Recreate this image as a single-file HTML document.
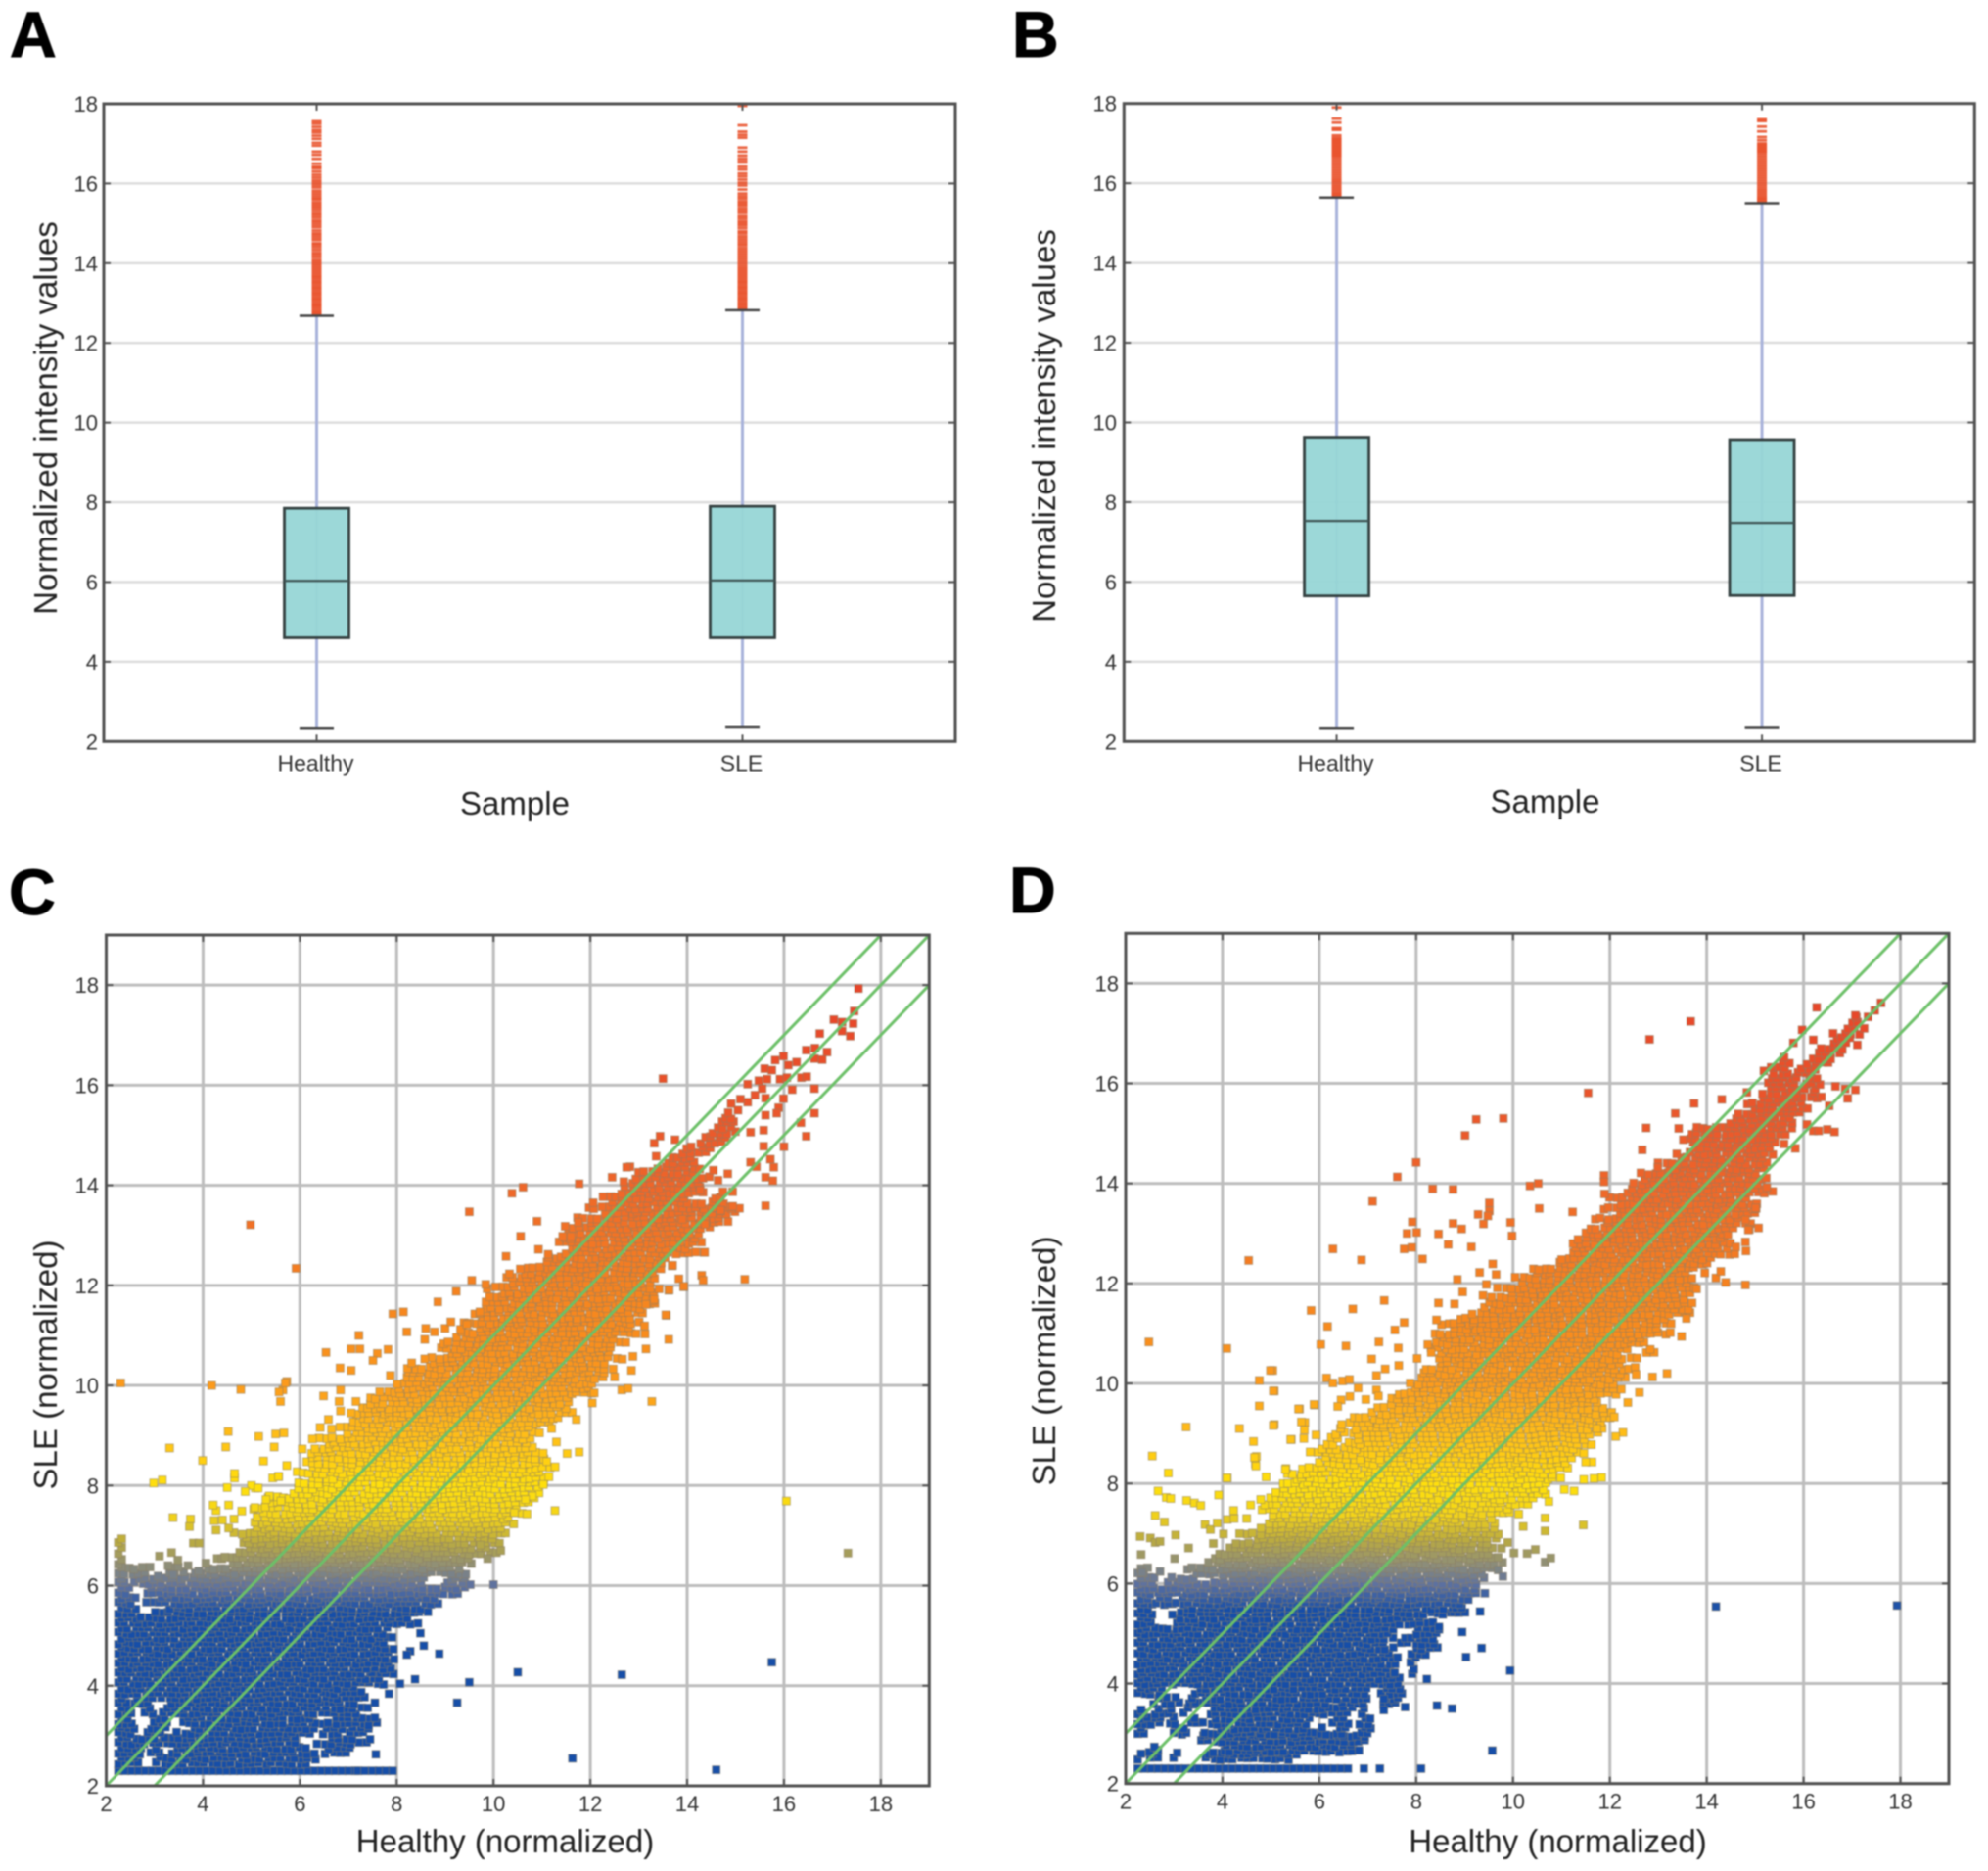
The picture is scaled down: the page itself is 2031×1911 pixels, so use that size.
<!DOCTYPE html>
<html lang="en">
<head>
<meta charset="utf-8">
<title>Normalized intensity box plots and scatter plots</title>
<style>
html,body{margin:0;padding:0;background:#fff;}
#figure{display:block;filter:blur(0.8px);font-family:"Liberation Sans",Arial,sans-serif;}
.tick{font-size:22px;fill:#333;}
.cat{font-size:23px;fill:#333;}
.title{font-size:33px;fill:#222;}
.panel{font-size:66px;font-weight:bold;fill:#000;stroke:#000;stroke-width:1px;}
</style>
</head>
<body>
<svg id="figure" xmlns="http://www.w3.org/2000/svg" width="2031" height="1911" viewBox="0 0 2031 1911">
  <rect width="2031" height="1911" fill="#fff"/>
  <g id="chart-a"></g>
  <g id="chart-b"></g>
  <g id="chart-c"></g>
  <g id="chart-d"></g>

  <text class="panel" x="10" y="58">A</text>
  <text class="panel" x="1034" y="58">B</text>
  <text class="panel" x="9" y="934">C</text>
  <text class="panel" x="1031" y="932">D</text>

  <text class="title" text-anchor="middle" transform="translate(58,427) rotate(-90)">Normalized intensity values</text>
  <text class="title" text-anchor="middle" x="526" y="832">Sample</text>
  <text class="title" text-anchor="middle" transform="translate(1078,435) rotate(-90)">Normalized intensity values</text>
  <text class="title" text-anchor="middle" x="1578.5" y="830">Sample</text>
  <text class="title" text-anchor="middle" transform="translate(58,1394) rotate(-90)">SLE (normalized)</text>
  <text class="title" text-anchor="middle" x="516" y="1892">Healthy (normalized)</text>
  <text class="title" text-anchor="middle" transform="translate(1078,1390) rotate(-90)">SLE (normalized)</text>
  <text class="title" text-anchor="middle" x="1591.5" y="1892">Healthy (normalized)</text>
</svg>

<script>
/* ---------- box plot data ---------- */
const boxCategories = ['Healthy', 'SLE'];
const boxYTicks = [2, 4, 6, 8, 10, 12, 14, 16, 18];

const q1A = [4.6, 4.6];
const medianA = [6.03, 6.04];
const q3A = [7.85, 7.9];
const whiskerLowA = [2.32, 2.35];
const whiskerHighA = [12.68, 12.82];
const outliersAHealthy = [12.72,12.76,12.8,12.85,12.9,12.94,12.98,13.03,13.08,13.12,13.17,13.22,13.26,13.31,13.36,13.4,13.45,13.5,13.54,13.59,13.64,13.68,13.73,13.78,13.83,13.88,13.93,13.98,14.03,14.08,14.15,14.21,14.26,14.33,14.4,14.46,14.5,14.58,14.64,14.7,14.75,14.82,14.9,14.96,15.02,15.07,15.14,15.2,15.25,15.32,15.38,15.43,15.48,15.53,15.6,15.64,15.7,15.76,15.82,15.9,15.96,16.02,16.08,16.15,16.22,16.3,16.38,16.42,16.5,16.62,16.72,16.8,16.95,17.02,17.12,17.2,17.28,17.34,17.42,17.5,17.56];
const outliersASLE = [12.86,12.9,12.95,12.99,13.04,13.09,13.13,13.18,13.23,13.27,13.32,13.37,13.41,13.46,13.51,13.55,13.6,13.65,13.7,13.75,13.8,13.85,13.9,13.96,14.02,14.08,14.14,14.2,14.26,14.32,14.38,14.45,14.5,14.56,14.62,14.68,14.75,14.8,14.88,14.95,15.0,15.05,15.12,15.18,15.26,15.32,15.38,15.45,15.5,15.55,15.62,15.68,15.75,15.85,15.95,16.02,16.1,16.18,16.25,16.35,16.42,16.55,16.62,16.7,16.8,16.9,17.15,17.22,17.3,17.46,17.95];

const q1B = [5.65, 5.66];
const medianB = [7.53, 7.48];
const q3B = [9.63, 9.57];
const whiskerLowB = [2.32, 2.34];
const whiskerHighB = [15.64, 15.5];
const outliersBHealthy = [15.68,15.72,15.76,15.81,15.86,15.91,15.96,16.02,16.07,16.12,16.18,16.24,16.3,16.36,16.42,16.48,16.54,16.6,16.66,16.7,16.74,16.78,16.82,16.86,16.9,16.94,16.98,17.02,17.06,17.1,17.14,17.2,17.34,17.38,17.52,17.62,17.9];
const outliersBSLE = [15.54,15.58,15.62,15.66,15.71,15.76,15.81,15.86,15.92,15.98,16.04,16.1,16.16,16.22,16.28,16.34,16.4,16.46,16.52,16.58,16.64,16.7,16.76,16.8,16.84,16.88,16.92,16.96,17.0,17.08,17.16,17.3,17.42,17.56,17.6];

/* ---------- scatter data: C ---------- */
const scatterTicks = [2, 4, 6, 8, 10, 12, 14, 16, 18];
/* each band: SLE level, then Healthy start/end pairs read from the dense cloud */
const floorC = [2.3, 2.25,7.15, 7.2,7.35, 7.5,7.95];
const bandsC = [
[2.5,2.25,2.7,2.85,6.4],[2.7,2.25,2.8,2.95,3.15,3.25,6.45,6.55,7.1],[2.9,2.25,3.15,3.35,6.2,6.35,7.3],
[3.1,2.25,2.6,2.85,3.2,3.55,5.9,6.05,6.3,6.5,6.9,7.05,7.45],[3.3,2.25,2.55,3.0,3.3,3.5,6.25,6.45,7.4],
[3.5,2.25,2.55,2.8,2.95,3.25,6.25,6.4,7.3],[3.7,2.25,2.4,2.6,2.95,3.3,7.2],[3.9,2.25,7.25],[4.1,2.25,7.3,7.45,7.75],
[4.3,2.25,7.4,7.5,7.95],[4.5,2.25,7.9],[4.7,2.25,8.0],[4.9,2.25,8.0],[5.1,2.25,8.05],[5.3,2.25,8.25],
[5.5,2.25,2.65,3.0,8.4],[5.7,2.25,2.65,2.9,8.7],[5.9,2.25,2.5,2.75,9.3],[6.1,2.25,2.4,2.65,8.6,9.05,9.45],
[6.3,2.25,2.95,3.3,3.6,4.0,9.6],[6.5,2.25,2.35,4.4,9.75],[6.7,2.25,2.35,4.65,9.9],[6.9,2.25,2.35,4.8,10.2],
[7.1,4.85,10.4],[7.3,4.85,10.6],[7.5,5.2,10.65],[7.7,5.6,10.75],[7.9,5.8,10.9],[8.1,5.95,11.05],[8.3,6.0,11.1],
[8.5,6.05,11.05],[8.7,6.3,11.0],[8.9,6.55,11.0],[9.1,6.8,11.05],[9.3,7.0,11.25],[9.5,7.15,11.5],[9.7,7.55,11.75],
[9.9,7.9,11.9],[10.1,8.1,12.05],[10.3,8.25,12.4],[10.5,8.6,12.5],[10.7,8.9,12.6],[10.9,9.15,12.85],[11.1,9.45,12.95],
[11.3,9.6,13.0],[11.5,9.75,12.95],[11.7,9.95,13.1],[11.9,10.05,13.3],[12.1,10.3,13.4],[12.3,10.5,13.55],[12.5,10.9,13.8],
[12.7,11.3,14.0],[12.9,11.6,14.4],[13.1,11.7,14.5],[13.3,11.9,14.7],[13.5,12.05,14.85],[13.7,12.3,14.2,14.5,14.8],
[13.9,12.5,14.1],[14.1,12.75,14.4],[14.3,13.2,14.4],[14.5,13.6,14.2],[14.7,13.9,14.15,14.25,14.5],[14.9,14.3,14.85],
[15.1,14.55,15.0],[15.3,14.7,15.0]
];
/* x,y pairs of sparse individually visible points */
const pointsC = [
[13.5,16.13],[4.98,13.21],[5.92,12.34],[9.5,13.47],[10.38,13.84],[10.61,13.96],[11.77,14.03],[12.45,14.16],[12.82,14.37],[12.75,14.36],[13.32,14.84],[13.44,14.98],[13.75,14.91],[13.36,14.58],[12.06,13.65],[10.9,13.28],[11.75,13.26],[11.48,13.18],[10.56,12.98],[11.43,12.98],[11.6,12.98],[10.26,12.58],[10.93,12.72],[11.13,12.62],[10.33,12.23],[9.55,12.1],[9.84,12.02],[9.23,11.88],[8.85,11.67],[7.92,11.43],[8.14,11.47],[7.22,11.0],[8.21,11.07],[8.6,11.14],[8.58,10.92],[8.78,11.07],[9,11.14],[9.12,11.27],[9.32,11.12],[9.45,11.22],[9.72,11.47],[6.54,10.66],[7.06,10.73],[7.24,10.73],[7.82,10.72],[7.6,10.64],[7.51,10.5],[6.83,10.35],[7.06,10.3],[8.31,10.45],[8.58,10.53],[7.87,10.2],[5.73,10.08],[5.65,9.91],[5.6,9.68],[6.84,9.91],[6.49,9.79],[6.81,9.68],[7.16,9.68],[6.84,9.49],[7.06,9.45],[5.15,8.98],[5.67,9.05],[5.47,8.77],[5.25,8.49],[5.73,8.4],[5.56,8.18],[6.59,9.32],[6.42,9.16],[6.26,8.93],[6.05,8.73],[5.08,7.95],[5.35,7.76],
[14.35,12.66],[13.69,12.39],[14.3,12.2],[14.33,12.1],[13.83,12.13],[13.93,11.97],[13.62,11.9],[14.69,13.49],[14.9,13.57],[13.57,11.4],[13.62,10.92],[13.15,10.73],[12.88,10.58],[13.12,11.19],[13.29,11.69],[12.5,10.17],[12.85,10.3],[12.65,9.91],[12.78,9.94],[13.27,9.68],[12.04,9.65],[12.08,9.85],[11.71,9.32],[11.2,9.14],[11.52,8.64],[11.77,8.67],[11.3,8.87],[11.1,8.48],[11.27,7.5],[10.43,7.46],[10.8,7.79],[10.66,7.72],[11.03,8.02],
[17.54,17.93],[17.45,17.48],[17.03,17.31],[17.2,17.26],[17.43,17.23],[17.2,17.08],[17.37,16.98],[16.74,17.03],[16.46,16.7],[16.64,16.74],[16.89,16.66],[16.63,16.53],[16.79,16.51],[15.99,16.58],[15.82,16.5],[15.6,16.33],[15.75,16.3],[16.26,16.46],[16.09,16.4],[15.92,16.12],[16.06,16.15],[16.36,16.15],[16.47,16.17],[15.25,16.02],[15.48,16.09],[15.65,16.12],[15.55,15.93],[16.17,15.91],[16.63,15.93],[15.62,15.74],[15.99,15.73],[14.91,15.63],[15.25,15.66],[15.89,15.55],[15.62,15.4],[15.85,15.44],[16.63,15.44],[16.35,15.25],[16.46,14.98],[16,14.77],[14.85,15.45],[15.05,15.5],[15.1,15.72],[15.4,15.8],
[14.84,14.23],[14.64,14.1],[14.54,14.3],[14.27,13.9],[14.94,13.87],[14.74,13.87],[15.62,13.59],[15.08,13.54],[14.94,13.58],[14.69,13.5],[14.37,13.22],[13.9,13.32],[15.58,14.78],[15.31,14.46],[15.43,14.37],[15.72,14.52],[15.79,14.36],[15.62,14.16],[15.77,14.09],[15.31,15.06],[15.58,15.1],[15.19,12.12],[14.36,12.66],[13.93,11.98],[13.63,11.91],[13.7,12.4],[13.56,11.41],[13.15,11.62],[13.32,11.72],
[2.3,10.05],[4.18,10.0],[4.78,9.92],[5.7,10.05],[5.57,9.87],[3.31,8.75],[3.99,8.5],[4.52,9.08],[4.47,8.77],[4.27,7.5],[4.65,8.15],[5.5,9.03],[5.0,8.0],[5.44,8.15],
[2.98,8.05],[3.16,8.11],[3.38,7.36],[3.74,7.33],[3.72,7.18],[3.8,6.85],[3.92,6.85],[4.21,7.61],[4.53,7.61],[4.5,7.96],[4.65,8.24],[4.23,7.3],[4.4,7.31],[4.27,7.11],[4.53,7.15],[4.64,7.33],[4.8,7.49],[4.87,7.88],[5.14,7.95],[5.37,7.79],[5.07,7.56],[5.56,8.18],[5.61,7.69],[5.3,7.72],
[3.1,6.59],[3.35,6.66],[3.48,6.51],[3.28,6.4],[3.69,6.4],[4.06,6.45],[3.91,6.29],[4.45,6.57],[3.07,6.19],[3.38,6.22],
[9.52,6.02],[10.0,6.02],[8.49,5.05],[8.56,4.8],[8.28,4.69],[8.21,4.62],[8.88,4.64],[8.38,4.13],[8.07,4.04],[9.5,4.07],[9.25,3.66],[7.55,3.66],[7.42,3.2],[7.45,2.93],[7.57,2.63],[7.84,3.84],[9.73,6.81],[10.15,6.7],[9.88,6.54],
[16.05,7.69],[17.32,6.65],[15.75,4.47],[11.63,2.55],[14.6,2.32],[12.65,4.22],[10.5,4.27]
];

/* ---------- scatter data: D ---------- */
const floorD = [2.3, 2.25,6.65, 6.92,7.0, 7.25,7.33, 8.1,8.18];
const bandsD = [
[2.55,2.25,2.35,2.5,2.65,3.0,3.1,3.7,5.6],[2.7,2.5,2.65,3.8,6.75],[2.9,3.6,4.85,5.1,7.2],
[3.05,2.25,2.45,3.0,3.3,3.7,4.85,5.0,5.9,6.0,6.2,6.35,6.6,6.85,7.1],[3.25,2.25,2.8,2.9,3.1,3.35,3.5,3.6,4.9,5.0,5.8,6.3,6.6,6.85,7.1],
[3.45,2.25,2.4,2.6,2.75,2.9,3.0,3.2,3.3,3.6,6.3,6.45,6.7,6.85,6.95],[3.65,2.6,2.7,2.8,3.1,3.3,3.5,3.6,6.4,6.5,7.0,7.3,7.7],
[3.85,2.25,2.75,3.3,6.3,6.5,7.0,7.3,7.75],[4.05,2.25,7.3,7.45,7.7],[4.25,2.25,7.35,7.55,7.6,7.9,8.0],[4.45,2.25,7.55,7.9,8.0],
[4.65,2.25,7.55,7.7,8.55],[4.85,2.25,7.55,7.7,8.4],[5.05,2.25,7.7,8.0,8.55],[5.25,2.25,2.55,2.95,8.3],
[5.45,2.25,2.55,2.95,8.6,8.75,9.1],[5.65,2.25,2.55,2.65,2.95,3.1,9.0],[5.85,2.25,9.3],[6.05,2.25,2.6,2.9,3.5,3.9,9.55],
[6.25,2.25,2.5,3.4,9.6],[6.45,3.6,9.6],[6.65,3.95,9.7],[6.85,4.5,9.8],[7.05,4.55,9.8],[7.25,4.75,9.85],[7.45,5.0,10.05],
[7.65,5.05,10.3],[7.85,5.1,10.65],[8.05,5.2,10.75],[8.25,5.4,10.95],[8.45,5.95,11.3],[8.65,6.05,11.45],
[8.85,6.15,6.4,6.75,11.55],[9.05,6.35,6.5,6.8,11.65],[9.25,6.4,11.8],[9.45,7.1,11.9],[9.65,7.6,12.0],[9.85,7.85,12.05],
[10.05,8.0,12.1],[10.25,8.2,12.4],[10.45,8.35,12.4],[10.65,8.3,12.5,12.75,12.95],[10.85,8.45,12.95],[11.05,8.5,13.1],
[11.25,8.75,13.3],[11.45,9.35,13.55],[11.65,9.6,13.55],[11.85,9.85,13.65],[12.05,10.1,13.7],[12.25,10.35,13.9],
[12.45,10.75,14.3],[12.65,11.0,14.45],[12.85,11.5,14.55],[13.05,11.65,14.65],[13.25,11.85,14.75],[13.45,11.95,14.9],
[13.65,12.05,15.0],[13.85,12.25,15.05],[14.05,12.55,15.15],[14.25,13.0,15.3],[14.45,13.2,15.4],[14.65,13.45,15.5],
[14.85,13.7,15.55],[15.05,13.85,15.6],[15.25,14.4,15.75],[15.45,14.65,15.95],[15.65,14.9,16.05],[15.85,15.1,16.1,16.2,16.3],
[16.05,15.25,15.9,16.05,16.35],[16.25,15.4,15.75,15.9,16.3],[16.45,15.55,15.7,16.1,16.6],[16.65,16.3,16.85],[16.85,16.6,17.0],[17.05,16.85,17.15],[17.25,17.0,17.2]
];
const pointsD = [
[11.55,15.81],[9.24,15.28],[9.8,15.3],[9.01,14.96],[8,14.42],[7.61,14.13],[8.34,13.89],[8.76,13.88],[7.1,13.64],[10.35,13.95],[10.52,14],[11.88,14.16],[11.88,14.03],[11.89,13.79],[9.51,13.61],[9.51,13.45],[9.48,13.35],[9.28,13.38],[10.54,13.5],[11.23,13.43],[7.92,13.23],[8.76,13.2],[8.94,13.09],[9.39,13.19],[9.95,13.22],[9.98,12.95],[7.81,13],[8.01,13.02],[8.46,12.99],[8.66,12.78],[9.14,12.73],[7.75,12.69],[7.91,12.72],[6.28,12.69],[6.87,12.47],[8.13,12.49],[9.58,12.39],[9.31,12.22],[9.65,12.18],[8.85,12.08],[8.96,11.83],[9.45,11.98],[9.38,11.76],[8.46,11.61],[8.79,11.59],[7.34,11.66],[6.69,11.49],[5.83,11.46],[7.75,11.22],[8.42,11.27],[7.56,11.07],[6.17,11.14],[6.03,10.78],[6.55,10.75],[7.23,10.83],[7.63,10.71],[7.08,10.49],[7.64,10.36],[8.31,10.62],[8.02,10.5],[7.36,10.29],[7.18,10.16],[6.15,10.11],[6.28,10.01],[6.48,10.05],[6.62,10.08],[6.8,9.91],[7.18,9.87],[7.22,9.75],[6.63,9.74],[6.45,9.67],[6.96,9.68],[5.9,9.57],[5.59,9.49],[6.38,9.54],[5.7,9.22],[5.69,9.07],[5.93,8.97],[5.68,8.9],[5.42,8.88],[5.81,8.63],[5.31,8.3],[5.07,9.18],[5.07,9.85],[5.04,10.26],
[14.31,15.68],[13.74,15.6],[13.35,15.4],[13.42,15.1],[12.75,15.11],[12.67,14.67],[13.38,14.59],[12.99,14.32],[12.64,14.21],[14.83,15.82],[14.8,13.27],[15.02,13.5],[14.88,13.08],[14.8,12.83],[14.81,12.65],[14.8,11.97],[14.39,12.02],[14.19,12.11],[14.29,12.24],[13.96,12.21],[14.6,12.73],[13.79,11.89],[13.48,10.94],[13.58,11.3],[13.18,10.2],[12.88,10.13],[12.54,10.18],[12.61,9.82],[12.37,9.62],[12.27,9.02],[12.12,8.94],[12.09,9.33],[11.73,9.1],[11.83,8.12],[11.63,8.43],[11.5,8.43],[11.46,8.08],[11.67,8.1],[11.26,7.85],[11.06,7.88],[10.74,7.64],
[16.27,17.52],[13.67,17.24],[12.82,16.88],[15.97,17.07],[15.79,16.81],[17.6,17.61],[17.47,17.46],[17.07,17.36],[17.33,17.33],[17.25,17.1],[16.61,17],[16.2,16.87],[17.11,16.77],[15.18,16.25],[15.33,16.32],[16.66,15.94],[16.86,15.89],[17.07,15.87],[16.91,15.7],[16.37,15.73],[16.53,15.55],[16.2,15.05],[16.31,15.05],[16.49,15.08],[16.64,15.03],[16.07,15.18],[15.83,14.7],[15.36,13.84],[15.24,13.92],[15.01,13.51],[14.86,13.07],[15.07,13.11],
[2.55,8.55],[2.88,8.21],[2.67,7.85],[2.84,7.72],[2.93,7.7],[3.26,7.66],[3.42,7.61],[3.55,7.56],[2.61,7.36],[2.8,7.23],[2.3,6.94],[2.51,6.91],[2.61,6.82],[2.71,6.84],[3.03,6.97],[2.32,6.58],[3.01,6.5],[3.3,6.71],[3.81,6.8],[4.02,6.99],[3.64,7.18],[3.75,7.08],[3.89,7.21],[4.1,7.28],[4.24,7.3],[4.23,7.46],[4.5,7.3],[3.92,7.77],[4.1,8.11],[4.68,8.39],[4.7,8.54],[4.9,8.13],[5.3,8.28],[4.58,7.57],[4.79,7.68],[5.1,7.82],
[2.71,6.24],[2.34,6.22],[9.69,6.27],[9.79,6.14],[10.02,6.61],[10.29,6.6],[10.46,6.68],[10.66,6.43],[10.78,6.51],[9.89,6.82],[10.21,7.14],[10.66,7.05],[10.66,7.31],[11.45,7.17],
[9.32,5.44],[8.95,5.03],[9.35,4.71],[9.03,4.53],[9.94,4.26],[8.22,4.09],[8.43,3.56],[8.74,3.5],[9.57,2.66],[7.77,3.53],[7.33,3.47],[7.33,3.69],[8.47,5.13],
[14.19,5.54],[17.93,5.56],
[2.48,10.83],[4.09,10.7],[4.54,12.46],[3.25,9.13],[4.35,9.1],[4.99,10.26],[4.76,10.06],[5.05,9.85],[4.76,9.55],[4.66,8.52],[4.69,8.35],[5.05,9.16],[5.57,9.49],[5.89,9.58],[5.63,9.23],[5.41,8.88],[4.64,8.84],[4.09,8.11]
];

/* hand-typed texture pattern that roughens the filled cloud; not chart data */
const markGrain = [0.6,-0.9,0.2,0.8,-0.4,-0.7,0.9,-0.1,0.4,-1,0.7,0.1,-0.6,0.95,-0.3,0.5,-0.8,0.3,1,-0.5,-0.2,0.75,-0.95,0.15,0.55,-0.65,0.85,-0.15,-0.45,0.35,-0.85,0.65,0.05,-0.75,0.45,-0.35,0.9];

/* ---------- helpers ---------- */
const NS = 'http://www.w3.org/2000/svg';
function mk(parent, tag, attrs) {
  const el = document.createElementNS(NS, tag);
  for (const k in attrs) el.setAttribute(k, attrs[k]);
  parent.appendChild(el);
  return el;
}
function linear(d0, d1, r0, r1) {
  return v => r0 + (v - d0) * (r1 - r0) / (d1 - d0);
}
const colorStops = [[2,[22,78,168]],[5.5,[22,78,168]],[6,[93,113,160]],[6.4,[142,142,120]],[6.9,[188,172,62]],[7.4,[244,212,24]],[8,[255,224,12]],[9,[255,190,23]],[10,[252,155,28]],[11,[248,140,29]],[12,[245,130,32]],[13,[242,116,37]],[14,[238,102,42]],[15,[235,90,43]],[17,[232,74,42]],[19,[229,64,42]]];
function colorFor(v) {
  for (let i = 1; i < colorStops.length; i++) {
    if (v <= colorStops[i][0]) {
      const a = colorStops[i - 1], b = colorStops[i];
      const t = Math.max(0, (v - a[0]) / (b[0] - a[0]));
      const c = a[1].map((n, j) => Math.round(n + (b[1][j] - n) * t));
      return 'rgb(' + c.join(',') + ')';
    }
  }
  return 'rgb(229,64,42)';
}
function frameAndTicks(g, L, T, R, B, xVals, yVals, xs, ys) {
  xVals.forEach(v => {
    const a = mk(g, 'line', {x1: xs(v), x2: xs(v), y1: B, y2: B - 7, stroke: '#555', 'stroke-width': 2});
    
    
    const b = mk(g, 'line', {x1: xs(v), x2: xs(v), y1: T, y2: T + 7, stroke: '#555', 'stroke-width': 2});
    
    
  });
  yVals.forEach(v => {
    const a = mk(g, 'line', {x1: L, x2: L + 7, y1: ys(v), y2: ys(v), stroke: '#555', 'stroke-width': 2});
    
    
    const b = mk(g, 'line', {x1: R, x2: R - 7, y1: ys(v), y2: ys(v), stroke: '#555', 'stroke-width': 2});
    
    
  });
  const f = mk(g, 'rect', {x: L, y: T, width: R - L, height: B - T, fill: 'none', stroke: '#505050', 'stroke-width': 3});
  
  
}

/* ---------- box plot ---------- */
function drawBox(id, L, T, R, B, labelRight, q1, med, q3, lo, hi, outlierSets) {
  const g = document.getElementById(id);
  const ys = linear(2, 18, B, T);
  const xs = i => L + (R - L) * (2 * i + 1) / 4;
  boxYTicks.forEach(v => {
    const gl = mk(g, 'line', {x1: L, x2: R, y1: ys(v), y2: ys(v), stroke: '#dcdcdc', 'stroke-width': 2.5});
    
    
    const t = mk(g, 'text', {x: labelRight, y: ys(v) + 8, 'text-anchor': 'end', class: 'tick'});
    
    
    t.textContent = v;
  });
  boxCategories.forEach((c, i) => {
    const x = xs(i);
    const w = mk(g, 'line', {x1: x, x2: x, y1: ys(hi[i]), y2: ys(lo[i]), stroke: '#a8b2da', 'stroke-width': 3});
    
    
    outlierSets[i].forEach(v => {
      const o = mk(g, 'rect', {x: x - 5, y: ys(v) - 1.4, width: 10, height: 2.8, fill: '#e84a22', 'fill-opacity': 0.85});
      
      
    });
    [lo[i], hi[i]].forEach(v => {
      const cap = mk(g, 'line', {x1: x - 17.5, x2: x + 17.5, y1: ys(v), y2: ys(v), stroke: '#444', 'stroke-width': 2.5});
      
      
    });
    const b = mk(g, 'rect', {x: x - 33, y: ys(q3[i]), width: 66, height: ys(q1[i]) - ys(q3[i]), fill: '#97d6d6', 'fill-opacity': 0.95, stroke: '#334040', 'stroke-width': 2.8});
    
    
    const m = mk(g, 'line', {x1: x - 33, x2: x + 33, y1: ys(med[i]), y2: ys(med[i]), stroke: '#3f5555', 'stroke-width': 2.2});
    
    
    const t = mk(g, 'text', {x: x - 1, y: B + 30, 'text-anchor': 'middle', class: 'cat'});
    
    
    t.textContent = c;
  });
  frameAndTicks(g, L, T, R, B, [0, 1], boxYTicks, xs, ys);
}

/* ---------- scatter ---------- */
const PITCH = 0.14;
function plotMark(g, xs, ys, x, y) {
  const m = mk(g, 'rect', {x: xs(x) - 4, y: ys(y) - 4, width: 8, height: 8, fill: colorFor(y), stroke: 'rgba(140,125,100,0.5)', 'stroke-width': 1});
  
  
}
function drawScatter(id, x2px, x19px, y2px, y19px, labelRight, floorRow, bands, points) {
  const g = document.getElementById(id);
  const xs = linear(2, 19, x2px, x19px);
  const ys = linear(2, 19, y2px, y19px);
  const B = y2px, T = y19px, L = x2px, R = x19px;
  scatterTicks.forEach(v => {
    const a = mk(g, 'line', {x1: L, x2: R, y1: ys(v), y2: ys(v), stroke: '#bdbdbd', 'stroke-width': 3});
    
    
    const b = mk(g, 'line', {x1: xs(v), x2: xs(v), y1: T, y2: B, stroke: '#bdbdbd', 'stroke-width': 3});
    
    
    const tx = mk(g, 'text', {x: xs(v), y: B + 26, 'text-anchor': 'middle', class: 'tick'});
    
    
    tx.textContent = v;
    const ty = mk(g, 'text', {x: labelRight, y: ys(v) + 8, 'text-anchor': 'end', class: 'tick'});
    
    
    ty.textContent = v;
  });
  for (let k = 1; k < floorRow.length; k += 2) {
    for (let x = floorRow[k]; x <= floorRow[k + 1]; x += PITCH) plotMark(g, xs, ys, x, floorRow[0]);
  }
  const n = markGrain.length;
  let i = 0;
  bands.forEach((band, b) => {
    [-0.05, 0.05].forEach((dy, s) => {
      for (let k = 1; k < band.length; k += 2) {
        /* the left end stays on the floor of values (x = 2.25); wide runs get a rough right end */
        const wide = band[k + 1] - band[k] > 0.8;
        const startRough = wide && band[k] > 2.3 ? 0.25 * markGrain[(3 * b + 7 * s + k) % n] : 0;
        const endRough = wide ? 0.25 * markGrain[(5 * b + 11 * s + k + 9) % n] : 0;
        for (let x = band[k] + startRough + s * PITCH / 2; x <= band[k + 1] + endRough; x += PITCH) {
          i++;
          const ox = x > 2.35 ? 0.03 * markGrain[i % n] : 0;
          const oy = 0.025 * markGrain[(5 * i + 11) % n];
          plotMark(g, xs, ys, x + ox, band[0] + dy + oy);
        }
      }
    });
  });
  points.forEach(p => plotMark(g, xs, ys, p[0], p[1]));
  [[2, 3, 18, 19], [2, 2, 19, 19], [3, 2, 19, 18]].forEach(d => {
    const l = mk(g, 'line', {x1: xs(d[0]), y1: ys(d[1]), x2: xs(d[2]), y2: ys(d[3]), stroke: '#6cc068', 'stroke-width': 3});
    
    
  });
  frameAndTicks(g, L, T, R, B, scatterTicks, scatterTicks, xs, ys);
}

drawBox('chart-a', 106, 106, 976, 757.3, 100, q1A, medianA, q3A, whiskerLowA, whiskerHighA, [outliersAHealthy, outliersASLE]);
drawBox('chart-b', 1148.3, 105.7, 2017.3, 757.3, 1141, q1B, medianB, q3B, whiskerLowB, whiskerHighB, [outliersBHealthy, outliersBSLE]);
drawScatter('chart-c', 108.5, 949.3, 1824, 955, 101, floorC, bandsC, pointsC);
drawScatter('chart-d', 1150, 1991, 1821.7, 953.3, 1143, floorD, bandsD, pointsD);
</script>
</body>
</html>
